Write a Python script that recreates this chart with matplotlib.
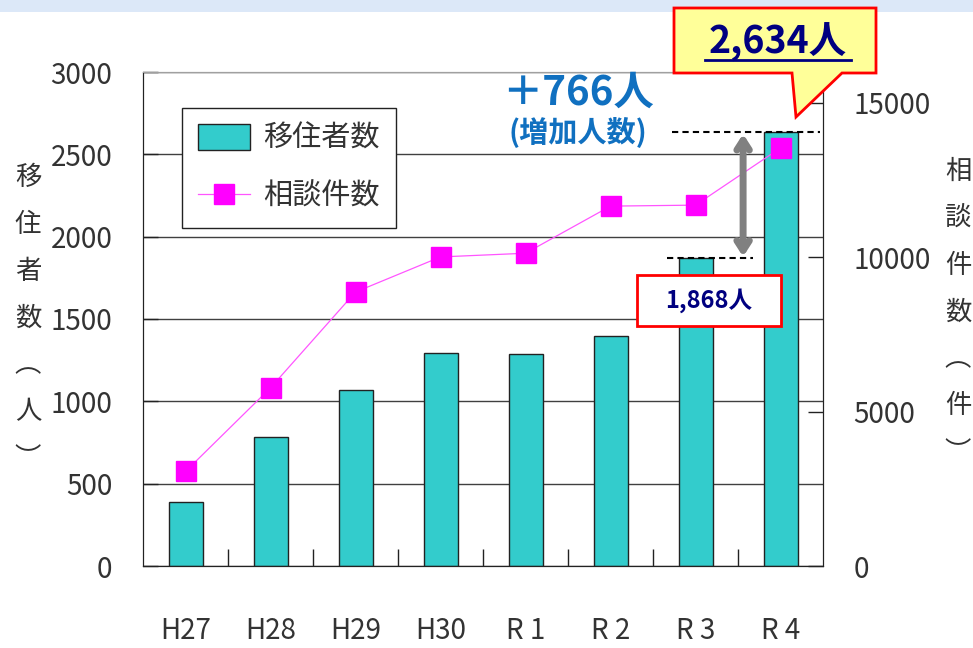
import matplotlib
matplotlib.use("Agg")
import matplotlib.pyplot as plt
import numpy as np
from matplotlib.patches import Polygon, Rectangle
from matplotlib.lines import Line2D
from matplotlib.transforms import Affine2D

plt.rcParams['font.family'] = ['Noto Sans CJK JP', 'DejaVu Sans']

years = ['H27', 'H28', 'H29', 'H30', 'R 1', 'R 2', 'R 3', 'R 4']
movers = [390, 783, 1069, 1292, 1286, 1399, 1868, 2634]
consults = [3062, 5770, 8873, 10010, 10130, 11656, 11688, 13539]

bar_color = '#33CCCC'
line_color = '#FF00FF'
txt_color = '#333333'
blue = '#1070C0'
navy = '#000080'

fig = plt.figure(figsize=(9.73, 6.48), dpi=100)
# pixel coords (top-left origin) for decorations outside the axes
pxt = Affine2D().scale(1 / 973, -1 / 648).translate(0, 1) + fig.transFigure

ax = fig.add_axes([143 / 973, 1 - 566 / 648, 680 / 973, 494 / 648])
ax2 = ax.twinx()

x = np.arange(len(years))
bars = ax.bar(x, movers, width=0.4, color=bar_color, edgecolor='#222222', linewidth=1.0, zorder=2)
ax.set_xlim(-0.5, len(years) - 0.5)
ax.set_ylim(0, 3000)
ax.set_yticks(np.arange(0, 3001, 500))
ax.set_axisbelow(True)
ax.yaxis.grid(True, color='#404040', linewidth=1.0)

line, = ax2.plot(x, consults, color='#FF55FF', linewidth=0.9, marker='s', markersize=15,
                 markerfacecolor=line_color, markeredgecolor=line_color, zorder=3)
ax2.set_ylim(0, 16000)
ax2.set_yticks([0, 5000, 10000, 15000])

# ticks and labels
ax.set_xticks(x)
ax.set_xticklabels(years)
ax.set_xticks(np.arange(0.5, len(years) - 1, 1), minor=True)
ax.tick_params(axis='x', which='major', length=0, pad=36, labelsize=20, labelcolor=txt_color)
ax.tick_params(axis='x', which='minor', direction='in', length=12, width=1, color='#222222')
ax.tick_params(axis='y', direction='in', length=11, width=1, pad=22, labelsize=20,
               labelcolor=txt_color, color='#222222')
ax2.tick_params(axis='y', direction='in', length=11, width=1, pad=22, labelsize=20,
                labelcolor=txt_color, color='#222222')

for a in (ax, ax2):
    a.spines['top'].set_color('#a0a0a0')
    a.spines['left'].set_color('#222222')
    a.spines['right'].set_color('#222222')
    a.spines['bottom'].set_color('#222222')

leg = ax2.legend([bars, line], ['移住者数', '相談件数'], loc='upper left',
                 bbox_to_anchor=(0.057, 0.927), borderaxespad=0, fancybox=False,
                 edgecolor='#222222', framealpha=1, fontsize=21, handlelength=1.8,
                 handleheight=0.95, borderpad=0.55, labelspacing=0.95, handletextpad=0.45,
                 labelcolor=txt_color)
leg.get_frame().set_linewidth(1.0)

# axis titles written vertically
fig.text(28 / 973, 1 - 318 / 648, '移\n住\n者\n数\n︵\n人\n︶', ha='center', va='center',
         fontsize=19, color=txt_color, linespacing=1.95)
fig.text(958 / 973, 1 - 312 / 648, '相\n談\n件\n数\n︵\n件\n︶', ha='center', va='center',
         fontsize=19, color=txt_color, linespacing=1.95)

# increase annotation (left-axis data coords)
r3, r4 = movers[6], movers[7]
ax2.plot([5.72, 7.47], [r4, r4], transform=ax.transData, color='black',
         linestyle=(0, (3, 2)), linewidth=1.5, zorder=5)
ax2.plot([5.66, 6.68], [r3, r3], transform=ax.transData, color='black',
         linestyle=(0, (3, 2)), linewidth=1.5, zorder=5)
ax2.annotate('', xy=(6.56, r3 + 10), xytext=(6.56, r4 - 10),
             xycoords=ax.transData, textcoords=ax.transData,
             arrowprops=dict(arrowstyle='<->,head_length=0.7,head_width=0.45',
                             color='#808080', lw=5, shrinkA=0, shrinkB=0), zorder=6)
ax2.text(4.62, 2872, '＋766人', transform=ax.transData, ha='center', va='center',
         fontsize=29, fontweight='bold', color=blue)
ax2.text(4.62, 2636, '(増加人数)', transform=ax.transData, ha='center', va='center',
         fontsize=21, fontweight='bold', color=blue)

# R3 label box
fig.patches.append(Rectangle((637, 326), 144, -51, transform=pxt, facecolor='white',
                             edgecolor='#FF0000', linewidth=2, zorder=8))
fig.text(709 / 973, 1 - 301 / 648, '{:,}人'.format(r3), ha='center', va='center',
         fontsize=17, fontweight='bold', color=navy, zorder=9)

# R4 callout
callout = [(674, 8), (876, 8), (876, 73), (842, 73), (796, 117), (792, 73), (674, 73)]
fig.patches.append(Polygon(callout, closed=True, transform=pxt, facecolor='#FFFF99',
                           edgecolor='#FF0000', linewidth=2, zorder=8))
fig.text(778 / 973, 1 - 42 / 648, '{:,}人'.format(r4), ha='center', va='center',
         fontsize=27, fontweight='bold', color=navy, zorder=9)
fig.lines.append(Line2D([705, 851], [60, 60], transform=pxt, color=navy, linewidth=2, zorder=9))

# top banner strip
fig.patches.append(Rectangle((0, 0), 973, 12, transform=pxt, facecolor='#dce8f8',
                             edgecolor='none', zorder=0))

fig.savefig('out.png', dpi=100)
